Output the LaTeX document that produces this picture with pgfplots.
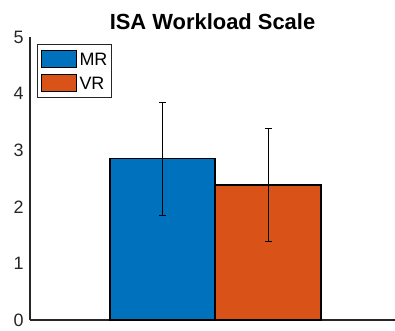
\documentclass[border=0pt]{standalone}
\usepackage{pgfplots}
\pgfplotsset{compat=1.18}
\usepackage{fontspec}
\setmainfont{Liberation Sans}
\definecolor{mblue}{RGB}{0,114,189}
\definecolor{morange}{RGB}{217,83,25}
\definecolor{axgray}{RGB}{38,38,38}
\begin{document}
\begin{tikzpicture}
\path[use as bounding box] (-30bp,-11bp) rectangle (365bp,320bp);
\begin{axis}[
  scale only axis,
  width=365bp, height=283bp,
  xmin=0, xmax=365, ymin=0, ymax=5,
  axis x line=bottom, axis y line=left,
  axis line style={-, axgray, line width=1.3bp},
  xtick=\empty,
  ytick={0,1,2,3,4,5},
  major tick length=0pt,
  /pgf/number format/assume math mode=true,
  tick label style={font=\fontsize{18}{20}\selectfont, text=axgray},
  yticklabel style={xshift=-3bp},
  title={\fontsize{22}{24}\selectfont\bfseries ISA Workload Scale},
  title style={yshift=-2bp},
  ybar, bar width=105.5bp, bar shift=0pt,
  legend style={at={(7bp,276bp)}, anchor=north west, draw=axgray, line width=1.2bp,
    font=\fontsize{18}{20}\selectfont, inner xsep=3bp, inner ysep=5bp,
    row sep=6bp, column sep=1.5bp,
    nodes={inner sep=1bp, text height=12.5bp, text depth=0bp},
    legend cell align=left},
  legend image code/.code={\draw[#1, line width=1.4bp] (0bp,-8.5bp) rectangle (35bp,8.5bp);},
  clip=false,
]
\addplot[fill=mblue, draw=black, line width=1.6bp,
  error bars/.cd, y dir=both, y explicit,
  error bar style={line width=0.8bp, black},
  error mark options={rotate=90, mark size=3.5bp, line width=0.8bp}]
  coordinates {(132.5,2.85) +- (0,1.0)};
\addplot[fill=morange, draw=black, line width=1.6bp,
  error bars/.cd, y dir=both, y explicit,
  error bar style={line width=0.8bp, black},
  error mark options={rotate=90, mark size=3.5bp, line width=0.8bp}]
  coordinates {(238,2.38) +- (0,1.0)};
\legend{MR,VR}
\end{axis}
\end{tikzpicture}
\end{document}
